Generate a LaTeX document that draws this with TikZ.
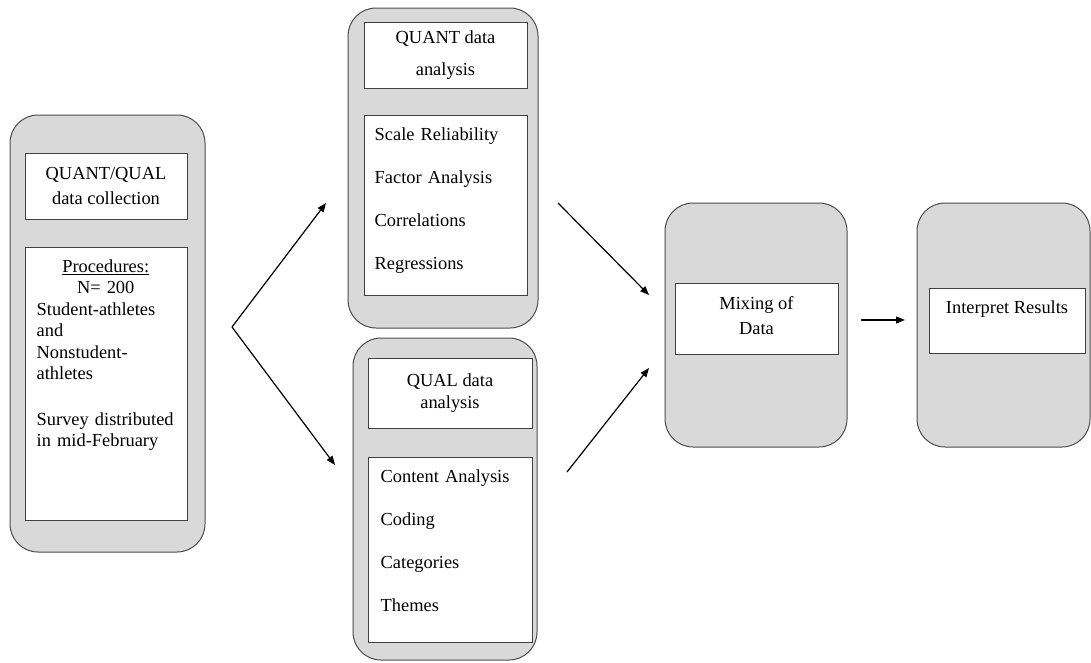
\documentclass[tikz,border=0pt]{standalone}
\usepackage{fontspec}
\setmainfont{Liberation Serif}
\usetikzlibrary{arrows, arrows.meta}
\usetikzlibrary{calc, positioning}

\begin{document}
\begin{tikzpicture}[x=1pt, y=-1pt,
    outerbox/.style={draw=black!70, fill=black!15, rounded corners=28pt, line width=1pt},
    innerbox/.style={draw=black!75, fill=white, line width=1pt, align=center, inner sep=0pt},
    boxtext/.style={inner sep=0pt, text width=140pt},
    arrow/.style={line width=1.2pt, -{Triangle[length=9pt, width=7pt]}},
    font=\fontsize{18.4}{21.5}\selectfont]
      \useasboundingbox (0, 0) rectangle (1091, 662);

      \node[outerbox, minimum width=195pt, minimum height=437pt] (collect) at (107.5, 333.5) {};
      \node[innerbox, minimum width=162pt, minimum height=66pt] (collecthead) at (106, 186) {QUANT/QUAL\\[3pt]data collection};
      \node[innerbox, minimum width=162pt, minimum height=273pt] (collectbody) at (106, 383.5) {};
      \node[boxtext, text width=138pt, below right=13pt and 12pt of collectbody.north west] (collecttext) {\raggedright
        {\centering\underline{Procedures:}\par N=~200\par}
        Student-athletes\\and\\Nonstudent-\\athletes\\[24pt]Survey distributed\\in mid-February};

      \node[outerbox, minimum width=190pt, minimum height=320pt] (quant) at (443, 168) {};
      \node[innerbox, minimum width=163pt, minimum height=66pt] (quanthead) at (445.5, 55) {QUANT data\\[10pt]analysis};
      \node[innerbox, minimum width=163pt, minimum height=180pt] (quantbody) at (445.5, 205) {};
      \node[boxtext, below right=13pt and 11pt of quantbody.north west] (quanttext) {\raggedright
        Scale Reliability\\[21.5pt]Factor Analysis\\[21.5pt]Correlations\\[21.5pt]Regressions};

      \node[outerbox, minimum width=184pt, minimum height=322pt] (qual) at (445, 499) {};
      \node[innerbox, minimum width=164pt, minimum height=70pt] (qualhead) at (450, 393) {QUAL data\\analysis};
      \node[innerbox, minimum width=164pt, minimum height=185pt] (qualbody) at (450, 549.5) {};
      \node[boxtext, below right=13pt and 13pt of qualbody.north west] (qualtext) {\raggedright
        Content Analysis\\[21.5pt]Coding\\[21.5pt]Categories\\[21.5pt]Themes};

      \node[outerbox, minimum width=182pt, minimum height=244pt] (mix) at (756, 325) {};
      \node[innerbox, minimum width=163pt, minimum height=71pt] (mixbox) at (756.5, 318.5) {};
      \node[inner sep=0pt, align=center, below=14pt of mixbox.north] (mixtext) {Mixing of\\[3pt]Data};

      \node[outerbox, minimum width=173pt, minimum height=244pt] (interp) at (1003.5, 325) {};
      \node[innerbox, minimum width=156pt, minimum height=65pt] (interpbox) at (1007, 320.5) {};
      \node[inner sep=0pt, below=13pt of interpbox.north] (interptext) {Interpret Results};

      \coordinate (split) at (232, 327);
      \coordinate (toquant) at (326, 203);
      \coordinate (toqual) at (335, 465);
      \coordinate (fromquant) at (558, 203);
      \coordinate (mixtop) at (649, 295);
      \coordinate (fromqual) at (567, 472);
      \coordinate (mixbottom) at (649, 368);
      \coordinate (frommix) at (861, 320);
      \coordinate (tointerp) at (905, 320);

      \draw[arrow] (split) -- (toquant);
      \draw[arrow] (split) -- (toqual);
      \draw[arrow] (fromquant) -- (mixtop);
      \draw[arrow] (fromqual) -- (mixbottom);
      \draw[arrow] (frommix) -- (tointerp);
    \end{tikzpicture}
\end{document}
